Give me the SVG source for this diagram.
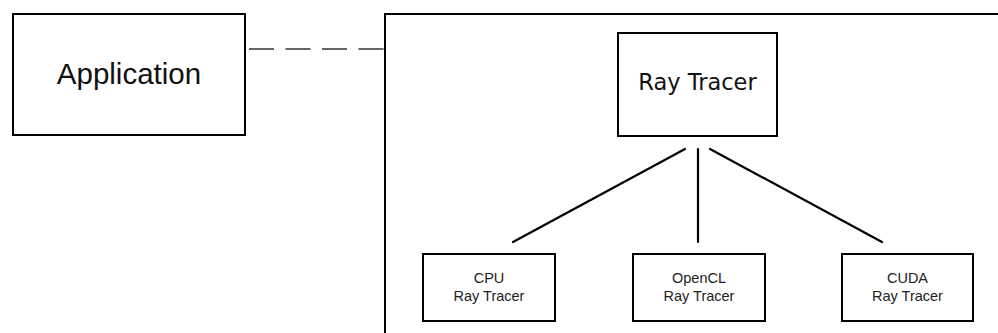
<svg xmlns="http://www.w3.org/2000/svg" width="998" height="333" viewBox="0 0 998 333">
<style>
.box{fill:#fff;stroke:#000;stroke-width:2}
.line{stroke:#000;stroke-width:2.2;fill:none;stroke-linecap:round}
.small{font-family:"Liberation Sans",Arial,sans-serif;font-size:14.5px;fill:#222;text-anchor:middle}
</style>
<rect width="998" height="333" fill="#fff"/>
<g id="container">
<rect class="box" x="385" y="14" width="700" height="400"/>
</g>
<g id="connectors">
<line x1="249" y1="49" x2="384" y2="49" stroke="#333" stroke-width="1.5" stroke-dasharray="25 11.5"/>
<line class="line" x1="685" y1="149" x2="513" y2="242"/>
<line class="line" x1="698" y1="149" x2="698" y2="242"/>
<line class="line" x1="710" y1="149" x2="882" y2="242"/>
</g>
<g id="application">
<rect class="box" x="13" y="14" width="232" height="121"/>
<text x="129" y="84" font-family="'Liberation Sans',Arial,sans-serif" font-size="29.5" text-anchor="middle" fill="#111">Application</text>
</g>
<g id="raytracer">
<rect class="box" x="618" y="33" width="159" height="103"/>
<text x="697.5" y="90" font-family="'DejaVu Sans',Verdana,sans-serif" font-size="22.5" text-anchor="middle" fill="#111">Ray Tracer</text>
</g>
<g id="cpu">
<rect class="box" x="423" y="254" width="132" height="67"/>
<text class="small" x="489" y="283">CPU</text>
<text class="small" x="489" y="301">Ray Tracer</text>
</g>
<g id="opencl">
<rect class="box" x="633" y="254" width="132" height="67"/>
<text class="small" x="699" y="283">OpenCL</text>
<text class="small" x="699" y="301">Ray Tracer</text>
</g>
<g id="cuda">
<rect class="box" x="842" y="254" width="131" height="67"/>
<text class="small" x="907.5" y="283">CUDA</text>
<text class="small" x="907.5" y="301">Ray Tracer</text>
</g>
</svg>
